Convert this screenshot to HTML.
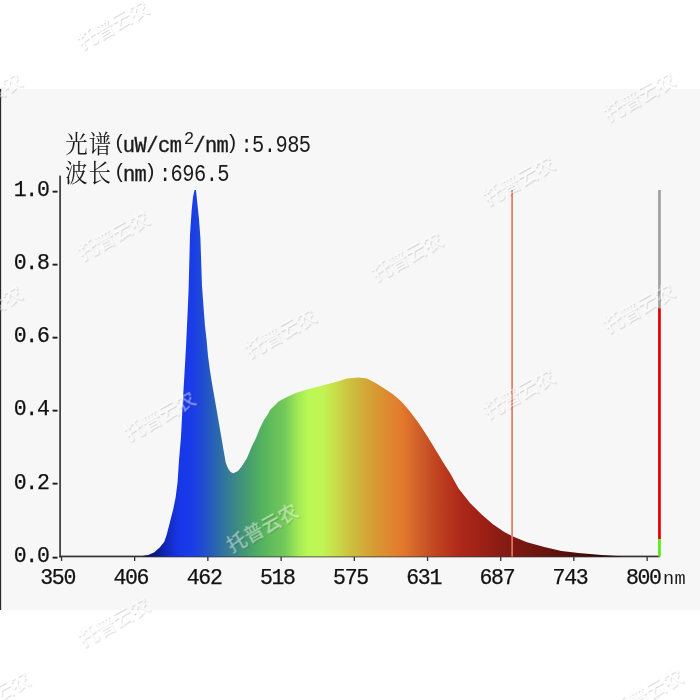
<!DOCTYPE html>
<html lang="zh-CN"><head><meta charset="utf-8"><title>光谱</title>
<style>
html,body{margin:0;padding:0;background:#fff;}
body{width:700px;height:700px;overflow:hidden;position:relative;font-family:"Liberation Sans","Noto Sans CJK SC",sans-serif;}
svg{position:absolute;left:0;top:0;display:block;}
.ax{font-family:"Liberation Mono",monospace;font-size:21.5px;letter-spacing:-1.3px;fill:#111;stroke:#111;stroke-width:.25px;}
.tk{font-family:"Liberation Mono",monospace;font-size:16px;fill:#222;stroke:#222;stroke-width:.5px;}
.hl{font-family:"Liberation Mono",monospace;font-size:20.4px;letter-spacing:-.54px;fill:#1a1a1a;}
.hb{stroke:#1a1a1a;stroke-width:.35px;}
.sup{font-family:"Liberation Mono",monospace;font-size:17.5px;fill:#1a1a1a;}
.nm{font-family:"Liberation Mono",monospace;font-size:18.5px;letter-spacing:.5px;fill:#1a1a1a;}
.hc{font-family:"Liberation Serif","Noto Serif CJK SC",serif;font-size:22.5px;letter-spacing:1px;fill:#1a1a1a;}
.wm{font-family:"Liberation Sans","Noto Sans CJK SC",sans-serif;font-size:19.5px;font-weight:500;fill:#fff;}
</style></head><body>
<svg width="700" height="700" viewBox="0 0 700 700">
<defs><linearGradient id="sp" gradientUnits="userSpaceOnUse" x1="140" y1="0" x2="630" y2="0"><stop offset="0.0163" stop-color="rgb(8,15,105)"/><stop offset="0.0367" stop-color="rgb(12,28,150)"/><stop offset="0.0571" stop-color="rgb(18,42,195)"/><stop offset="0.0816" stop-color="rgb(24,55,232)"/><stop offset="0.1061" stop-color="rgb(26,60,232)"/><stop offset="0.1286" stop-color="rgb(32,76,210)"/><stop offset="0.1531" stop-color="rgb(42,100,178)"/><stop offset="0.1898" stop-color="rgb(58,132,138)"/><stop offset="0.2245" stop-color="rgb(72,160,108)"/><stop offset="0.2551" stop-color="rgb(88,182,92)"/><stop offset="0.2959" stop-color="rgb(116,201,90)"/><stop offset="0.3224" stop-color="rgb(162,234,85)"/><stop offset="0.3429" stop-color="rgb(186,247,85)"/><stop offset="0.3714" stop-color="rgb(192,245,84)"/><stop offset="0.3939" stop-color="rgb(198,226,76)"/><stop offset="0.4184" stop-color="rgb(203,202,66)"/><stop offset="0.4449" stop-color="rgb(207,180,58)"/><stop offset="0.4857" stop-color="rgb(216,150,50)"/><stop offset="0.5143" stop-color="rgb(224,132,47)"/><stop offset="0.5347" stop-color="rgb(226,122,45)"/><stop offset="0.5714" stop-color="rgb(207,93,40)"/><stop offset="0.6122" stop-color="rgb(190,63,30)"/><stop offset="0.6531" stop-color="rgb(174,40,25)"/><stop offset="0.6939" stop-color="rgb(160,33,22)"/><stop offset="0.7347" stop-color="rgb(138,28,20)"/><stop offset="0.7755" stop-color="rgb(122,24,18)"/><stop offset="0.8367" stop-color="rgb(100,20,15)"/><stop offset="0.8878" stop-color="rgb(78,14,10)"/><stop offset="0.9388" stop-color="rgb(50,8,6)"/><stop offset="0.9898" stop-color="rgb(25,2,2)"/></linearGradient>
<filter id="wm" filterUnits="userSpaceOnUse" x="0" y="0" width="700" height="700" color-interpolation-filters="sRGB">
<feOffset in="SourceAlpha" dx=".9" dy=".9" result="o"/>
<feComposite in="o" in2="SourceAlpha" operator="out" result="edge"/>
<feFlood flood-color="#000" flood-opacity=".13" result="f"/>
<feComposite in="f" in2="edge" operator="in" result="sh"/>
<feColorMatrix in="SourceGraphic" type="matrix" values="1 0 0 0 0 0 1 0 0 0 0 0 1 0 0 0 0 0 .45 0" result="w"/>
<feMerge><feMergeNode in="sh"/><feMergeNode in="w"/></feMerge>
</filter></defs>
<rect x="0" y="89" width="700" height="521" fill="#f7f7f7"/>
<rect x="0" y="89" width="1.15" height="521" fill="#2a2a2a"/>

<rect x="59.2" y="175.6" width="1.8" height="381.8" fill="#444"/>
<rect x="59.2" y="555.6" width="600.5" height="1.7" fill="#333"/>
<rect x="60.9" y="556" width="1.3" height="5" fill="#333"/>
<rect x="134.0" y="556" width="1.3" height="5" fill="#333"/>
<rect x="207.2" y="556" width="1.3" height="5" fill="#333"/>
<rect x="280.5" y="556" width="1.3" height="5" fill="#333"/>
<rect x="353.7" y="556" width="1.3" height="5" fill="#333"/>
<rect x="426.9" y="556" width="1.3" height="5" fill="#333"/>
<rect x="500.1" y="556" width="1.3" height="5" fill="#333"/>
<rect x="573.2" y="556" width="1.3" height="5" fill="#333"/>
<rect x="646.5" y="556" width="1.3" height="5" fill="#333"/>
<polygon points="141.0,556.6 145.0,555.6 148.3,554.9 154.0,552.6 159.7,547.4 164.3,541.7 166.6,535.0 170.0,522.0 173.4,508.6 175.7,497.0 177.6,482.0 179.0,460.0 181.0,437.0 182.6,405.0 184.4,375.0 186.0,347.0 187.4,317.0 188.6,290.0 190.0,235.0 191.6,211.0 193.0,197.0 194.6,190.0 196.0,190.0 197.4,204.0 199.0,219.0 200.4,238.0 202.0,286.0 203.6,308.0 205.0,326.0 206.6,340.0 208.0,356.0 209.6,368.0 211.6,381.0 213.5,392.0 215.5,403.5 217.5,415.0 219.5,426.5 221.5,438.0 223.5,450.0 225.7,462.5 227.3,466.8 229.2,470.3 231.0,472.2 233.4,473.2 238.0,471.0 242.0,466.0 247.0,458.0 252.0,446.0 256.0,438.0 260.0,428.0 264.0,420.0 268.0,414.0 270.0,410.0 278.6,401.4 287.0,397.0 295.7,392.9 307.0,389.4 321.4,385.7 335.7,382.0 347.0,378.6 358.6,377.4 367.0,378.6 375.7,382.9 384.3,388.6 392.9,394.3 401.4,401.4 410.0,411.4 418.6,422.9 427.0,435.7 435.7,450.0 444.3,464.3 450.0,472.9 458.6,488.6 470.0,502.9 481.4,514.3 492.9,524.3 504.3,532.0 512.9,536.6 527.0,542.3 544.3,547.0 561.4,550.9 578.6,552.9 601.4,554.9 624.0,556.6" fill="url(#sp)"/>
<rect x="511.25" y="190" width="1.7" height="366.5" fill="#e9775c"/>
<rect x="658.1" y="190" width="2.7" height="118.3" fill="#a0a0a0"/>
<rect x="658.1" y="308.3" width="2.7" height="231" fill="#e10000"/>
<rect x="658.1" y="539.3" width="2.7" height="17.3" fill="#55ee11"/>
<text class="ax" x="13.7" y="561.7">0.0</text>
<text class="tk" x="50.3" y="561.5">-</text>
<text class="ax" x="13.7" y="488.6">0.2</text>
<text class="tk" x="50.3" y="488.4">-</text>
<text class="ax" x="13.7" y="415.4">0.4</text>
<text class="tk" x="50.3" y="415.2">-</text>
<text class="ax" x="13.7" y="342.3">0.6</text>
<text class="tk" x="50.3" y="342.1">-</text>
<text class="ax" x="13.7" y="269.1">0.8</text>
<text class="tk" x="50.3" y="268.9">-</text>
<text class="ax" x="13.7" y="196.0">1.0</text>
<text class="tk" x="50.3" y="195.8">-</text>
<text class="ax" x="40.2" y="583.9">350</text>
<text class="ax" x="113.4" y="583.9">406</text>
<text class="ax" x="186.7" y="583.9">462</text>
<text class="ax" x="259.9" y="583.9">518</text>
<text class="ax" x="333.1" y="583.9">575</text>
<text class="ax" x="406.2" y="583.9">631</text>
<text class="ax" x="479.5" y="583.9">687</text>
<text class="ax" x="552.6" y="583.9">743</text>
<text class="ax" x="625.9" y="583.9">800</text>
<text class="nm" x="662.9" y="583.6">nm</text>
<text class="hc" transform="translate(65.35,153.00) scale(1,1.11)">光谱</text>
<text class="hl" transform="translate(113.60,148.50) scale(1,0.95)">(</text>
<text class="hl hb" transform="translate(122.85,151.70) scale(1,1.1)">uW/cm</text>
<text class="sup" transform="translate(183.80,144.40) scale(1,1)">2</text>
<text class="hl hb" transform="translate(193.20,151.70) scale(1,1.06)">/nm</text>
<text class="hl" transform="translate(225.90,148.50) scale(1,0.95)">)</text>
<text class="hl" transform="translate(240.40,151.80) scale(1,1.15)">:5.985</text>
<text class="hc" transform="translate(65.00,182.20) scale(1,1.11)">波长</text>
<text class="hl" transform="translate(113.70,177.70) scale(1,0.95)">(</text>
<text class="hl hb" transform="translate(122.90,181.00) scale(1,1.06)">nm</text>
<text class="hl" transform="translate(144.15,177.70) scale(1,0.95)">)</text>
<text class="hl" transform="translate(158.90,181.10) scale(1,1.15)">:696.5</text>
<g filter="url(#wm)">
<text class="wm" text-anchor="middle" transform="translate(113.0,25.0) rotate(-29)" y="6.8">托普云农</text>
<text class="wm" text-anchor="middle" transform="translate(-13.6,97.2) rotate(-29)" y="6.8">托普云农</text>
<text class="wm" text-anchor="middle" transform="translate(639.5,96.5) rotate(-29)" y="6.8">托普云农</text>
<text class="wm" text-anchor="middle" transform="translate(518.8,180.5) rotate(-29)" y="6.8">托普云农</text>
<text class="wm" text-anchor="middle" transform="translate(113.5,235.5) rotate(-29)" y="6.8">托普云农</text>
<text class="wm" text-anchor="middle" transform="translate(407.0,256.5) rotate(-29)" y="6.8">托普云农</text>
<text class="wm" text-anchor="middle" transform="translate(-13.6,310.2) rotate(-29)" y="6.8">托普云农</text>
<text class="wm" text-anchor="middle" transform="translate(639.0,308.0) rotate(-29)" y="6.8">托普云农</text>
<text class="wm" text-anchor="middle" transform="translate(519.0,393.6) rotate(-29)" y="6.8">托普云农</text>
<text class="wm" text-anchor="middle" transform="translate(280.5,333.0) rotate(-29)" y="6.8">托普云农</text>
<text class="wm" text-anchor="middle" transform="translate(160.0,416.0) rotate(-29)" y="6.8">托普云农</text>
<text class="wm" text-anchor="middle" transform="translate(262.5,528.0) rotate(-29)" y="6.8">托普云农</text>
<text class="wm" text-anchor="middle" transform="translate(114.0,622.0) rotate(-29)" y="6.8">托普云农</text>
<text class="wm" text-anchor="middle" transform="translate(-5.6,696.2) rotate(-29)" y="6.8">托普云农</text>
<text class="wm" text-anchor="middle" transform="translate(647.4,693.2) rotate(-29)" y="6.8">托普云农</text>
</g>
</svg></body></html>
